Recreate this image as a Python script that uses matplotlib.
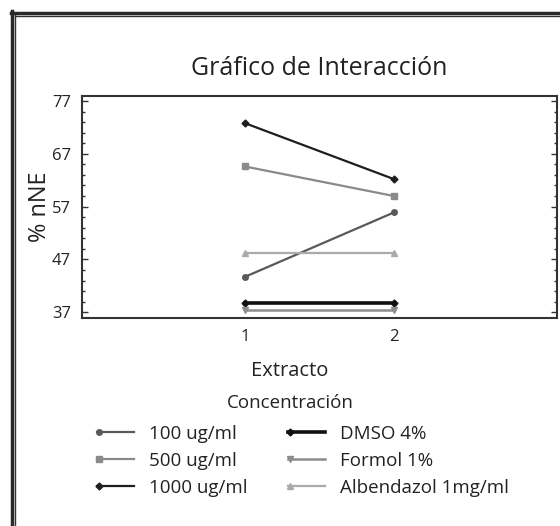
import numpy as np
import matplotlib
matplotlib.use('Agg')
import matplotlib.pyplot as plt
from matplotlib.lines import Line2D
from matplotlib.legend_handler import HandlerLine2D
from matplotlib.ticker import FixedLocator

plt.rcParams['font.family'] = ['Open Sans', 'DejaVu Sans']

# data
extracto = [1, 2]
series_names = ['100 ug/ml', '500 ug/ml', '1000 ug/ml', 'DMSO 4%', 'Formol 1%', 'Albendazol 1mg/ml']
v_100 = [43.7, 55.9]
v_500 = [64.6, 59.0]
v_1000 = [72.8, 62.2]
v_dmso = [38.7, 38.7]
v_formol = [37.5, 37.5]
v_albendazol = [48.2, 48.2]

styles = [
    dict(color='#595959', marker='o', ms=4, lw=1.6),
    dict(color='#8a8a8a', marker='s', ms=5, lw=1.6),
    dict(color='#1e1e1e', marker='D', ms=3.5, lw=1.6),
    dict(color='#111111', marker='D', ms=3.5, lw=2.6),
    dict(color='#8c8c8c', marker='v', ms=4, lw=1.8),
    dict(color='#aaaaaa', marker='^', ms=5, lw=1.6),
]


class LeftMarkerHandler(HandlerLine2D):
    # legend marker drawn at the left end of the line, like the original
    def create_artists(self, legend, orig_handle, xdescent, ydescent,
                       width, height, fontsize, trans):
        y = (height - ydescent) / 2
        line = Line2D([-xdescent, -xdescent + width], [y, y])
        self.update_prop(line, orig_handle, legend)
        line.set_marker('None')
        mk = Line2D([-xdescent + 1.5], [y])
        self.update_prop(mk, orig_handle, legend)
        mk.set_linestyle('None')
        line.set_transform(trans)
        mk.set_transform(trans)
        return [line, mk]


fig = plt.figure(figsize=(5.6, 5.26), dpi=100)
ax = fig.add_axes([82 / 560, 1 - 318 / 526, (557 - 82) / 560, (318 - 96) / 526])

all_vals = [v_100, v_500, v_1000, v_dmso, v_formol, v_albendazol]
handles = []
for name, vals, st in zip(series_names, all_vals, styles):
    h, = ax.plot(extracto, vals, color=st['color'], marker=st['marker'],
                 markersize=st['ms'], lw=st['lw'], label=name,
                 markeredgecolor=st['color'])
    handles.append(h)

ax.set_xlim(-0.094, 3.094)
ax.set_ylim(35.9, 77.95)
ax.xaxis.set_major_locator(FixedLocator(extracto))
ax.yaxis.set_major_locator(FixedLocator([37, 47, 57, 67, 77]))
ax.yaxis.set_minor_locator(FixedLocator(np.arange(37, 78, 2)))

for sp in ax.spines.values():
    sp.set_linewidth(1.5)
    sp.set_color('#333333')

ax.tick_params(axis='y', which='both', direction='in', left=True, right=True,
               colors='#333333', labelsize=12, pad=8, width=1)
ax.tick_params(axis='y', which='major', length=4.3)
ax.tick_params(axis='y', which='minor', length=2.5)
ax.tick_params(axis='x', length=0, labelsize=12, pad=8, colors='#333333')
for lbl in ax.get_yticklabels() + ax.get_xticklabels():
    lbl.set_color('#222222')

ax.set_title('Gráfico de Interacción', fontsize=18, pad=15, color='#222222')
ax.set_xlabel('Extracto', fontsize=14.5, color='#222222')
ax.xaxis.set_label_coords((290 - 82) / (557 - 82), -0.195)
ax.set_ylabel('% nNE', fontsize=17, labelpad=0, color='#222222')

fig.text(290 / 560, 1 - 403 / 526, 'Concentración', fontsize=13.5,
         ha='center', va='center', color='#222222')
leg = fig.legend(handles=handles, labels=series_names, ncol=2,
                 loc='upper left', bbox_to_anchor=(97 / 560, 1 - 425 / 526),
                 frameon=False, fontsize=13.5, borderpad=0, borderaxespad=0,
                 handlelength=1.95, handletextpad=0.8, columnspacing=2.2,
                 labelspacing=0.48,
                 handler_map={Line2D: LeftMarkerHandler()})
for t in leg.get_texts():
    t.set_color('#222222')

# double outer frame, cropped on right and bottom
frame = [
    Line2D([11.5 / 560, 11.5 / 560], [0, 1 - 11 / 526], lw=2.5, color='#2a2a2a'),
    Line2D([11 / 560, 1], [1 - 12.5 / 526, 1 - 12.5 / 526], lw=2.5, color='#2a2a2a'),
    Line2D([15.3 / 560, 15.3 / 560], [0, 1 - 15.3 / 526], lw=1.0, color='#333333'),
    Line2D([15.3 / 560, 1], [1 - 16.3 / 526, 1 - 16.3 / 526], lw=1.0, color='#333333'),
]
for ln in frame:
    fig.add_artist(ln)

fig.savefig('out.png', dpi=100)
